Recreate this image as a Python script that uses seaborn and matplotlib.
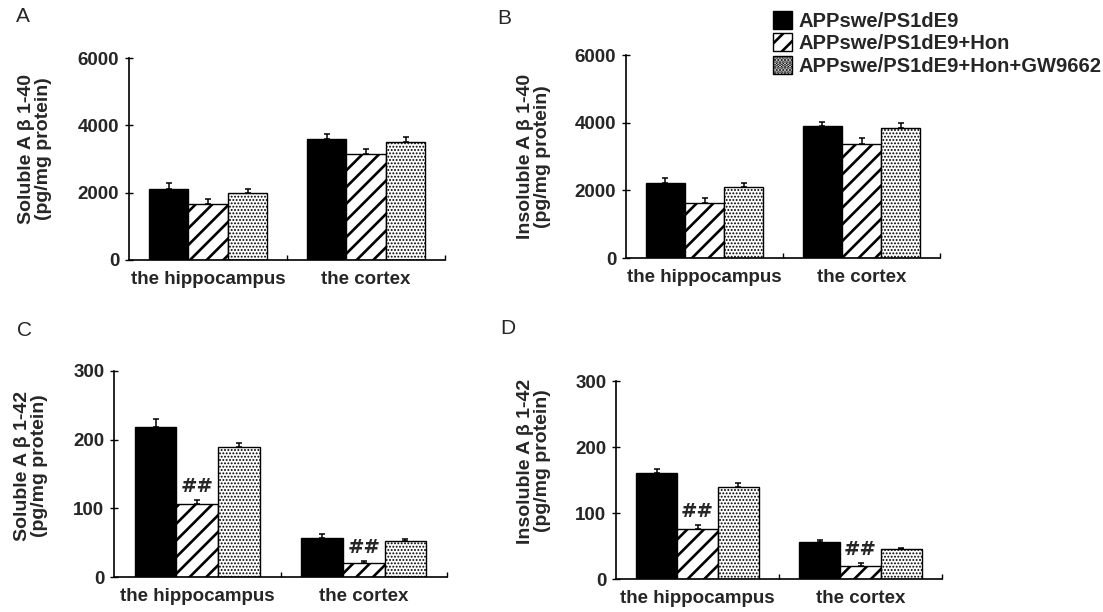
import numpy as np
import pandas as pd
import seaborn as sns
import matplotlib.pyplot as plt

regions = ["the hippocampus", "the cortex"]
groups = ["APPswe/PS1dE9", "APPswe/PS1dE9+Hon", "APPswe/PS1dE9+Hon+GW9662"]

# values per group, order: hippocampus, cortex
sol40 = [[2100, 3590], [1660, 3150], [1990, 3500]]
sol40_err = [[200, 150], [150, 150], [110, 150]]
insol40 = [[2220, 3900], [1630, 3370], [2100, 3840]]
insol40_err = [[140, 120], [140, 180], [120, 150]]
sol42 = [[218, 57], [106, 20], [189, 52]]
sol42_err = [[12, 6], [6, 3], [6, 3]]
insol42 = [[161, 56], [76, 20], [139, 45]]
insol42_err = [[6, 3], [6, 4], [6, 2]]

ylabels = ["Soluble A β 1-40\n(pg/mg protein)", "Insoluble A β 1-40\n(pg/mg protein)",
           "Soluble A β 1-42\n(pg/mg protein)", "Insoluble A β 1-42\n(pg/mg protein)"]
yticks_40 = [0, 2000, 4000, 6000]
yticks_42 = [0, 100, 200, 300]

sns.set_style("white")
plt.rcParams["font.family"] = ["Liberation Sans", "DejaVu Sans"]
plt.rcParams["font.weight"] = "bold"
plt.rcParams["hatch.linewidth"] = 1.9

W, H = 1103, 612
fig = plt.figure(figsize=(W / 100, H / 100), dpi=100)


def px_axes(left, top, right, bottom):
    return fig.add_axes([left / W, 1 - bottom / H, (right - left) / W, (bottom - top) / H])


panels = [
    ("A", px_axes(129, 58, 445, 260), sol40, sol40_err, yticks_40, (-0.244, 0.55), None, (16, 16)),
    ("B", px_axes(626, 55, 940, 258), insol40, insol40_err, yticks_40, (-0.239, 0.5), None, (497, 18)),
    ("C", px_axes(114, 371, 447, 577), sol42, sol42_err, yticks_42, (-0.198, 0.54), "##", (17, 330)),
    ("D", px_axes(616, 381, 942, 579), insol42, insol42_err, yticks_42, (-0.2, 0.596), "##", (500, 328)),
]

legend_bars = None
for (letter, ax, vals, errs, yticks, lab_xy, mark, letter_xy), ylab in zip(panels, ylabels):
    df = pd.DataFrame({
        "region": [r for g in groups for r in regions],
        "group": [g for g in groups for r in regions],
        "value": [v for row in vals for v in row],
    })
    sns.barplot(data=df, x="region", y="value", hue="group", order=regions, hue_order=groups,
                palette=["black", "white", "white"], width=0.75, errorbar=None,
                edgecolor="black", linewidth=1.0, saturation=1, ax=ax, legend=True)
    bars = list(ax.containers)
    if legend_bars is None:
        legend_bars = bars
    hatches = [None, "//", "....."]
    for i, cont in enumerate(bars):
        for p in cont.patches:
            if hatches[i]:
                p.set_hatch(hatches[i])
                if i == 2 and hasattr(p, "set_hatch_linewidth"):
                    p.set_hatch_linewidth(0.9)
        xs = [p.get_x() + p.get_width() / 2 for p in cont.patches]
        ys = [p.get_height() for p in cont.patches]
        ax.errorbar(xs, ys, yerr=[np.zeros(len(ys)), errs[i]], fmt="none", ecolor="black",
                    elinewidth=1.1, capsize=2.5, capthick=1.1, zorder=5)
        if mark and i == 1:
            for x, y, e in zip(xs, ys, errs[i]):
                ax.annotate(mark, (x, y + e), xytext=(0, 3), textcoords="offset points",
                            ha="center", va="bottom", fontsize=14, fontweight="bold",
                            family="Liberation Sans Narrow")
    ax.get_legend().remove()
    ax.set_xlim(-0.5, 1.5)
    ax.set_ylim(yticks[0], yticks[-1])
    ax.set_yticks(yticks)
    ax.set_xlabel("")
    ax.set_ylabel(ylab, fontsize=14, fontweight="bold", linespacing=1.0)
    ax.yaxis.set_label_coords(*lab_xy)
    ax.set_xticks([0.5, 1.5], minor=True)
    ax.tick_params(axis="x", which="major", bottom=True, length=0, pad=8, labelsize=13.5)
    ax.tick_params(axis="x", which="minor", bottom=True, direction="in", length=3.5,
                   width=1.0, color="black")
    ax.tick_params(axis="y", left=True, direction="inout", length=6, width=1.0, color="black",
                   pad=4, labelsize=13.5)
    for lab in ax.get_xticklabels() + ax.get_yticklabels():
        lab.set_fontweight("bold")
    sns.despine(ax=ax)
    for s in ("left", "bottom"):
        ax.spines[s].set_color("black")
        ax.spines[s].set_linewidth(1.2)
    fig.text(letter_xy[0] / W, 1 - letter_xy[1] / H, letter, fontsize=15, fontweight="normal",
             ha="left", va="center")

fig.legend(legend_bars, groups, loc="upper left", bbox_to_anchor=(773 / W, 1 - 11 / H),
           frameon=False, borderpad=0, borderaxespad=0, handlelength=0.95,
           handleheight=1.0, handletextpad=0.3, labelspacing=0.12,
           prop={"weight": "bold", "size": 14.5})

fig.savefig("out.png", dpi=100)
